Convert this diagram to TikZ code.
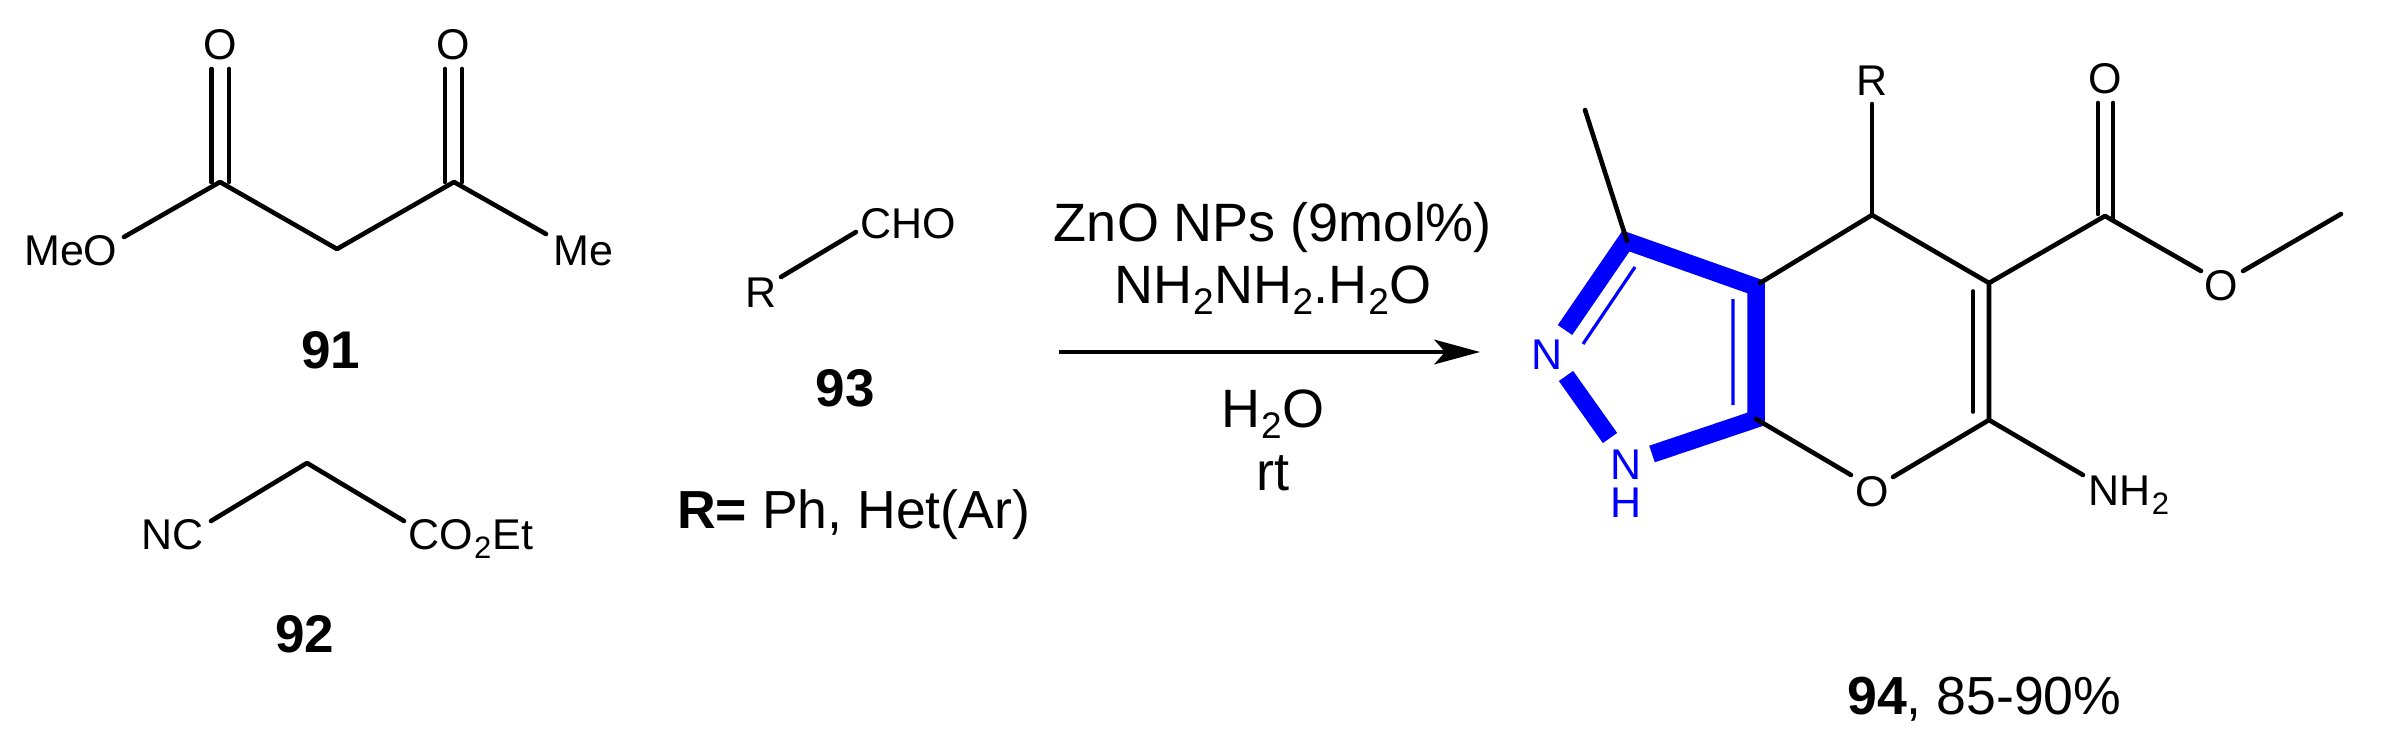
\documentclass[tikz,border=0pt]{standalone}
\usepackage{fontspec}
\setmainfont{Liberation Sans}
\usetikzlibrary{arrows.meta}
\newcommand{\strsub}[1]{\kern1.5pt\raisebox{-9pt}{\fontsize{31}{31}\selectfont #1}\kern1.5pt}
\newcommand{\rxnsub}[1]{\kern0.5pt\raisebox{-11pt}{\fontsize{37}{37}\selectfont #1}\kern0.5pt}
\tikzset{
  bond/.style={line width=4.6pt,black,line cap=round,line join=round},
  arrowline/.style={line width=4.6pt,black},
  bluebold/.style={line width=17.5pt,blue!100!black,line cap=butt,line join=miter},
  bluethin/.style={line width=3.2pt,blue},
  atom/.style={inner sep=0pt,anchor=base,font=\fontsize{43}{43}\selectfont},
  atomw/.style={atom,anchor=base west},
  blueatom/.style={atom,text=blue},
  bignum/.style={inner sep=0pt,anchor=base,font=\fontsize{53}{53}\selectfont\bfseries},
  rxn/.style={inner sep=0pt,anchor=base,font=\fontsize{54}{54}\selectfont},
  big/.style={inner sep=0pt,anchor=base west,font=\fontsize{53.6}{53.6}\selectfont}
}
\begin{document}
\begin{tikzpicture}[x=1pt,y=-1pt]
\useasboundingbox (0,0) rectangle (2381,754);
% ---- 91
\coordinate (a1) at (220,182);
\coordinate (a2) at (337,249);
\coordinate (a3) at (454,182);
\coordinate (a1l) at (211.6,182); \coordinate (a1lt) at (211.6,69);
\coordinate (a1r) at (229,182);   \coordinate (a1rt) at (229,69);
\coordinate (a3l) at (445,182);   \coordinate (a3lt) at (445,69);
\coordinate (a3r) at (462,182);   \coordinate (a3rt) at (462,69);
\coordinate (aO) at (124,237);
\coordinate (aM) at (546,234);
\node[atomw] (meo) at (24,265) {MeO};
\node[atomw] (me) at (553,265) {Me};
\node[atom] (o1) at (220,60) {O};
\node[atom] (o2) at (453,60) {O};
\draw[bond] (aO) -- (a1) -- (a2) -- (a3) -- (aM);
\draw[bond] (a1l) -- (a1lt) (a1r) -- (a1rt) (a3l) -- (a3lt) (a3r) -- (a3rt);
\node[bignum] (n91) at (331,368) {91};
% ---- 92
\coordinate (b1) at (211,521);
\coordinate (b2) at (307,463);
\coordinate (b3) at (404,521);
\node[atomw] (nc) at (141,549) {NC};
\node[atomw] (coet) at (408,549) {CO\strsub{2}Et};
\draw[bond] (b1) -- (b2) -- (b3);
\node[bignum] (n92) at (305,652) {92};
% ---- 93
\coordinate (c1) at (781,277);
\coordinate (c2) at (856,232);
\node[atomw] (r93) at (745,307) {R};
\node[atomw] (cho) at (860,238) {CHO};
\draw[bond] (c1) -- (c2);
\node[bignum] (n93) at (845,406) {93};
\node[big] (rdef) at (677,528) {\textbf{R=} Ph, Het(Ar)};
% ---- reaction
\node[rxn] (r1) at (1273,241) {ZnO NPs (9mol\%)};
\node[rxn] (r2) at (1273,303) {NH\rxnsub{2}NH\rxnsub{2}.H\rxnsub{2}O};
\node[rxn] (r3) at (1273,427) {H\rxnsub{2}O};
\node[rxn] (r4) at (1273,490) {rt};
\coordinate (ar0) at (1059,352);
\coordinate (ar1) at (1445,352);
\coordinate (ar2) at (1480,352);
\coordinate (ar3) at (1434,339.5);
\coordinate (ar4) at (1434,364.5);
\draw[arrowline] (ar0) -- (ar1);
\fill[black] (ar2) -- (ar3) -- (ar1) -- (ar4) -- cycle;
% ---- 94 blue
\coordinate (d3) at (1626,241);
\coordinate (d3a) at (1756,287);
\coordinate (d7a) at (1756,419);
\coordinate (dn2) at (1565,330);
\coordinate (dn1a) at (1566,376);
\coordinate (dn1b) at (1610,438);
\coordinate (dnh) at (1652,454);
\draw[bluebold] (dn2) -- (d3) -- (d3a) -- (d7a) -- (dnh);
\draw[bluebold] (dn1a) -- (dn1b);
\coordinate (di1) at (1635,267);
\coordinate (di2) at (1583,344);
\coordinate (di3) at (1733,299);
\coordinate (di4) at (1733,405);
\draw[bluethin] (di1) -- (di2) (di3) -- (di4);
\node[blueatom] (n2) at (1547,369) {N};
\node[blueatom] (n1) at (1626,479) {N};
\node[blueatom] (h1) at (1626,517) {H};
% ---- 94 black
\coordinate (e3a) at (1760,283);
\coordinate (e4) at (1872,215);
\coordinate (e5) at (1989,283);
\coordinate (e6) at (1989,420);
\coordinate (e7a) at (1756,419);
\coordinate (eO1) at (1851,475);
\coordinate (eO2) at (1893,477);
\coordinate (eMa) at (1585,110);
\coordinate (eMb) at (1627,241);
\coordinate (eR) at (1872,104);
\coordinate (eC) at (2105,216);
\coordinate (eCl) at (2098,214);
\coordinate (eClt) at (2098,103);
\coordinate (eCr) at (2113,218);
\coordinate (eCrt) at (2113,103);
\coordinate (eOa) at (2201,271);
\coordinate (eOb) at (2243,271);
\coordinate (eMe) at (2341,214);
\coordinate (eN) at (2083,475);
\coordinate (ei1) at (1973,291);
\coordinate (ei2) at (1973,412);
\draw[bond] (eMa) -- (eMb);
\draw[bond] (eR) -- (e4);
\draw[bond] (e3a) -- (e4) -- (e5) -- (e6) -- (eO2);
\draw[bond] (e7a) -- (eO1);
\draw[bond] (e5) -- (eC) -- (eOa);
\draw[bond] (eOb) -- (eMe);
\draw[bond] (e6) -- (eN);
\draw[bond] (eCl) -- (eClt) (eCr) -- (eCrt);
\draw[bond,line width=3.6pt] (ei1) -- (ei2);
\node[atom] (r94) at (1872,96) {R};
\node[atom] (o94a) at (2105,94) {O};
\node[atom] (o94b) at (2221,300) {O};
\node[atom] (o94c) at (1872,506) {O};
\node[atomw] (nh2) at (2088,505) {NH\strsub{2}};
\node[big] (n94) at (1847,714) {\textbf{94}, 85-90\%};
\end{tikzpicture}
\end{document}
